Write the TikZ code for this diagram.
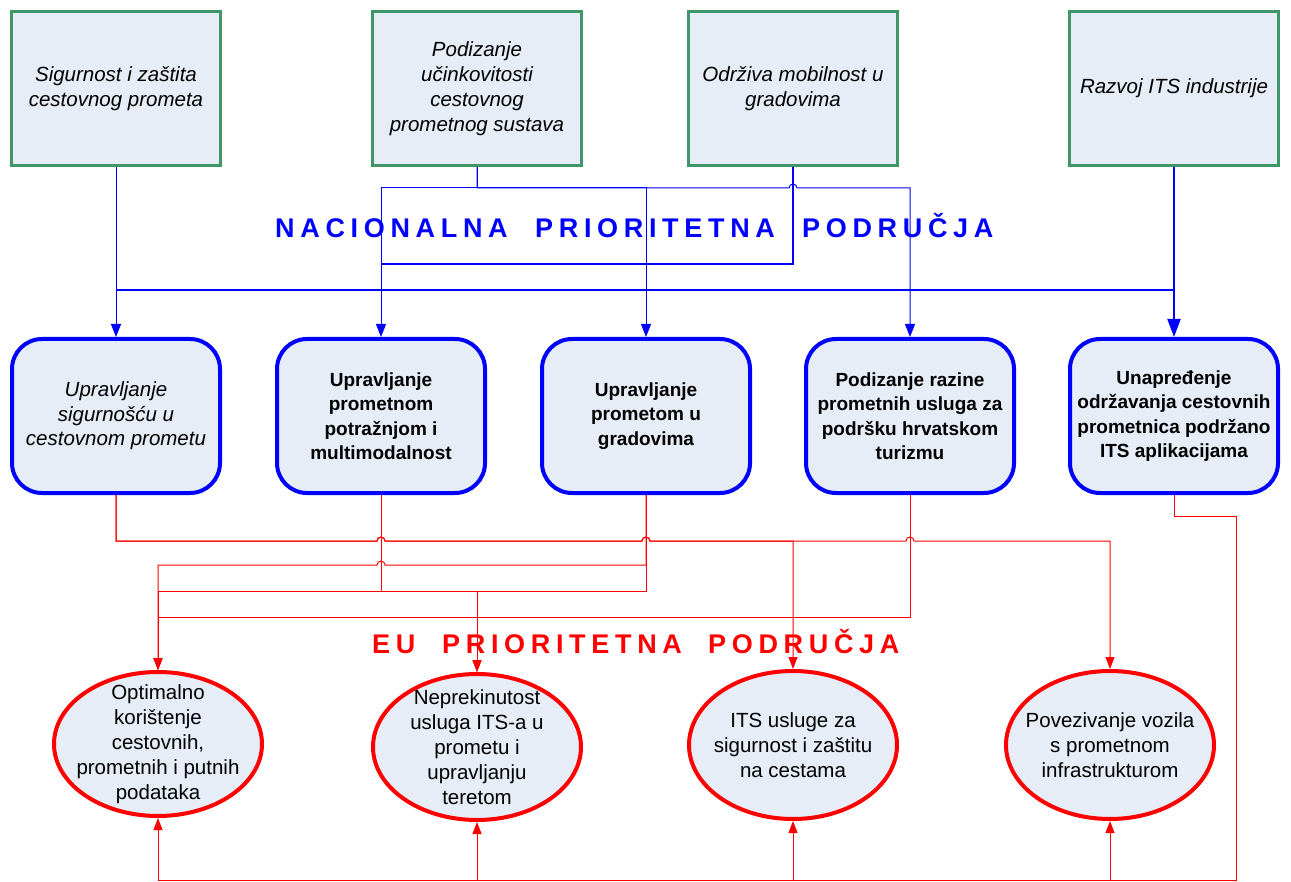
\documentclass[tikz,border=0pt]{standalone}
\usepackage{fontspec}
\setmainfont{Liberation Sans}
\usetikzlibrary{arrows.meta,calc,shapes.geometric}
\definecolor{boxfill}{RGB}{230,237,247}
\definecolor{boxgreen}{RGB}{63,150,104}
\definecolor{myblue}{RGB}{0,0,255}
\definecolor{myred}{RGB}{255,0,0}
\begin{document}
\begin{tikzpicture}[x=1pt,y=-1pt,
  topbox/.style={draw=boxgreen,line width=3pt,fill=boxfill,minimum width=209pt,minimum height=154pt,inner sep=2pt,align=center,font=\fontsize{20.5}{25}\selectfont\itshape},
  midbox/.style={draw=myblue,line width=4pt,fill=boxfill,rounded corners=30pt,minimum width=208pt,minimum height=154pt,inner sep=2pt,align=center,font=\fontsize{19}{24.5}\selectfont\bfseries},
  ell/.style={ellipse,draw=myred,line width=4pt,fill=boxfill,minimum width=208pt,inner sep=0pt},
  etext/.style={align=center,inner sep=0pt,font=\fontsize{20.5}{25}\selectfont},
  bconn/.style={draw=myblue,line width=1pt},
  bconnT/.style={draw=myblue,line width=2pt},
  barr/.style={-{Triangle[width=10pt,length=13pt]}},
  rconn/.style={draw=myred,line width=1pt},
  rarr/.style={-{Triangle[width=9pt,length=12pt]}},
  ttl/.style={font={\fontsize{27}{30}\selectfont\bfseries\addfontfeature{LetterSpace=21}},anchor=base west,inner sep=0pt}
]
\fill[white] (0,0) rectangle (1291,882);
\useasboundingbox (0,0) rectangle (1291,882);

% routing coordinates
\coordinate (b1) at (0,188);
\coordinate (b2) at (0,264);
\coordinate (b3) at (0,290);
\coordinate (r1) at (0,541);
\coordinate (r2) at (0,565);
\coordinate (r3) at (0,591);
\coordinate (r4) at (0,617);
\coordinate (r5) at (1236,516);
\coordinate (rb) at (0,880.5);

% top boxes
\node[topbox] (T1) at (116,88.5) {Sigurnost i zaštita\\cestovnog prometa};
\node[topbox] (T2) at (477,88.5) {Podizanje\\učinkovitosti\\cestovnog\\prometnog sustava};
\node[topbox] (T3) at (793,88.5) {Održiva mobilnost u\\gradovima};
\node[topbox] (T4) at (1174,88.5) {Razvoj ITS industrije};

% middle boxes
\node[midbox,font=\fontsize{20.5}{24.5}\selectfont\mdseries\itshape] (M1) at (116,416) {Upravljanje\\sigurnošću u\\cestovnom prometu};
\node[midbox] (M2) at (381,416) {Upravljanje\\prometnom\\potražnjom i\\multimodalnost};
\node[midbox] (M3) at (646,416) {Upravljanje\\prometom u\\gradovima};
\node[midbox] (M4) at (910,416) {Podizanje razine\\prometnih usluga za\\podršku hrvatskom\\turizmu};
\node[midbox] (M5) at (1174,416) {Unapređenje\\održavanja cestovnih\\prometnica podržano\\ITS aplikacijama};

% ellipses
\node[ell,minimum height=144pt] (E1) at (158,744) {};
\node[ell,minimum height=146pt] (E2) at (477,747) {};
\node[ell,minimum height=148pt] (E3) at (793,745) {};
\node[ell,minimum height=148pt] (E4) at (1110,745) {};
\node[etext] (E1t) at (E1) {Optimalno\\korištenje\\cestovnih,\\prometnih i putnih\\podataka};
\node[etext] (E2t) at (E2) {Neprekinutost\\usluga ITS-a u\\prometu i\\upravljanju\\teretom};
\node[etext] (E3t) at (E3) {ITS usluge za\\sigurnost i zaštitu\\na cestama};
\node[etext] (E4t) at (E4) {Povezivanje vozila\\s prometnom\\infrastrukturom};

% titles
\node[ttl,text=myblue] (N1) at (275,238) {NACIONALNA};
\node[ttl,text=myblue] (N2) at (535,238) {PRIORITETNA};
\node[ttl,text=myblue] (N3) at (802,238) {PODRUČJA};
\node[ttl,text=myred] (U1) at (372,653) {EU};
\node[ttl,text=myred] (U2) at (442,653) {PRIORITETNA};
\node[ttl,text=myred] (U3) at (708,653) {PODRUČJA};

% blue connectors
\draw[bconn,barr] (T1.south) -- (M1.north);
\draw[bconnT,-{Triangle[width=13pt,length=18pt]}] (T4.south) -- (M5.north);
\draw[bconnT] (T4.south) |- (M1.north |- b3);
\draw[bconn,barr] (T2.south) |- (M2.north |- b1) -- (M2.north);
\draw[bconn,barr] (T2.south) |- (M3.north |- b1) -- (M3.north);
\draw[bconn,barr] (T2.south) |- ($(T3.south |- b1)+(-4,0)$) arc[start angle=180,end angle=0,radius=4pt] -| (M4.north);
\draw[bconnT] (T3.south) |- (M2.north |- b2);

% red connectors
\draw[rconn,rarr] (M1.south) |- ($(M2.south |- r1)+(-4,0)$) arc[start angle=180,end angle=0,radius=4pt]
  -- ($(M3.south |- r1)+(-4,0)$) arc[start angle=180,end angle=0,radius=4pt] -| (E3.north);
\draw[rconn,rarr] (M1.south) |- ($(M2.south |- r1)+(-4,0)$) arc[start angle=180,end angle=0,radius=4pt]
  -- ($(M3.south |- r1)+(-4,0)$) arc[start angle=180,end angle=0,radius=4pt]
  -- ($(M4.south |- r1)+(-4,0)$) arc[start angle=180,end angle=0,radius=4pt] -| (E4.north);
\draw[rconn,rarr] (M2.south) -- (M2.south |- r3) -| (E1.north);
\draw[rconn,rarr] (M2.south) -- (M2.south |- r3) -| (E2.north);
\draw[rconn,rarr] (M3.south) -- (M3.south |- r3) -| (E2.north);
\draw[rconn,rarr] (M3.south) |- ($(M2.south |- r2)+(4,0)$) arc[start angle=0,end angle=180,radius=4pt] -| (E1.north);
\draw[rconn,rarr] (M4.south) -- (M4.south |- r4) -| (E1.north);
\foreach \e in {E1,E2,E3,E4}{
  \draw[rconn,rarr] (M5.south) |- (r5) -- (r5 |- rb) -| (\e.south);
}
\end{tikzpicture}
\end{document}
